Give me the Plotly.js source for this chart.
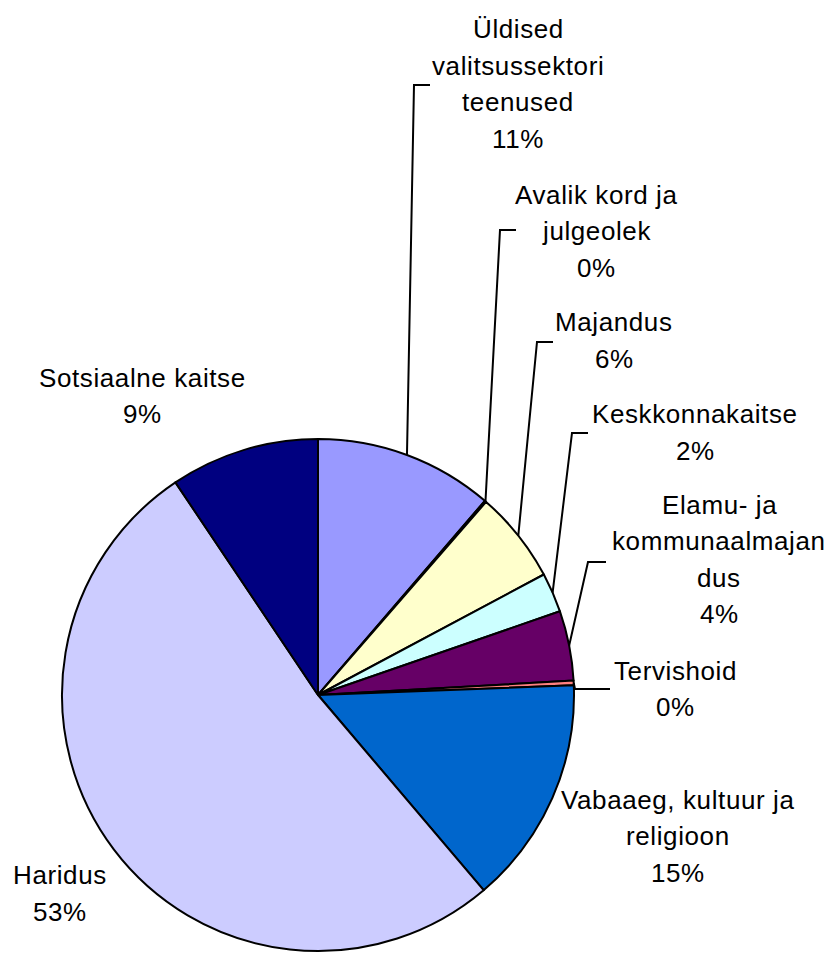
<!DOCTYPE html>
<html>
<head>
<meta charset="utf-8">
<script src="https://cdn.plot.ly/plotly-3.0.1.min.js"></script>
<style>
html,body{margin:0;padding:0;background:#fff;}
#chart{width:835px;height:956px;}
text.annotation-text{letter-spacing:0.6px;}
</style>
</head>
<body>
<div id="chart"></div>
<script>
// ---- data ----
const categories = [
  'Üldised valitsussektori teenused',
  'Avalik kord ja julgeolek',
  'Majandus',
  'Keskkonnakaitse',
  'Elamu- ja kommunaalmajandus',
  'Tervishoid',
  'Vabaaeg, kultuur ja religioon',
  'Haridus',
  'Sotsiaalne kaitse'
];
const labelLines = [
  ['Üldised', 'valitsussektori', 'teenused'],
  ['Avalik kord ja', 'julgeolek'],
  ['Majandus'],
  ['Keskkonnakaitse'],
  ['Elamu- ja', 'kommunaalmajan', 'dus'],
  ['Tervishoid'],
  ['Vabaaeg, kultuur ja', 'religioon'],
  ['Haridus'],
  ['Sotsiaalne kaitse']
];
const shares = [11.3, 0.1, 5.8, 2.5, 4.4, 0.3, 14.4, 51.8, 9.4];
const shownPct = ['11%', '0%', '6%', '2%', '4%', '0%', '15%', '53%', '9%'];
const colors = ['#9999FF', '#993366', '#FFFFCC', '#CCFFFF', '#660066', '#FF8080', '#0066CC', '#CCCCFF', '#000080'];

// ---- layout / styling ----
const W = 835, H = 956;
const CX = 318, CY = 695, R = 256;
const FS = 26, LH = 36.5, BASE_OFF = 9;
const FONT = 'Liberation Sans, Arial, Helvetica, sans-serif';

// label anchor (centre x, first baseline) and leader (cornerX, cornerY, endX)
const labelPos = [
  {x: 518, b: 38,    lead: [414, 85, 430]},
  {x: 596, b: 203.5, lead: [500, 230, 516]},
  {x: 614, b: 331,   lead: [537, 342, 553]},
  {x: 695, b: 423,   lead: [572, 433, 588]},
  {x: 719, b: 513.5, lead: [588, 562, 606]},
  {x: 675, b: 679.5, lead: [575, 689, 610]},
  {x: 678, b: 808.5, lead: null},
  {x: 60,  b: 884,   lead: null},
  {x: 142, b: 386.5, lead: null}
];

const total = shares.reduce((a, b) => a + b, 0);
const annotations = [];
const shapes = [];
let cum = 0;
shares.forEach((v, i) => {
  const mid = (cum + v / 2) / total;
  cum += v;
  const th = 2 * Math.PI * mid;
  const sx = CX + R * Math.sin(th);
  const sy = CY - R * Math.cos(th);
  const pos = labelPos[i];
  const lines = labelLines[i].concat([shownPct[i]]);
  lines.forEach((t, k) => {
    annotations.push({
      x: pos.x, y: pos.b + k * LH - BASE_OFF, xref: 'x', yref: 'y',
      text: t, showarrow: false, xanchor: 'center', yanchor: 'middle',
      font: {family: FONT, size: FS, color: '#000'}
    });
  });
  if (pos.lead) {
    const [cx, cy, ex] = pos.lead;
    shapes.push({
      type: 'path', xref: 'x', yref: 'y',
      path: `M ${sx} ${sy} L ${cx} ${cy} L ${ex} ${cy}`,
      line: {color: '#000', width: 2}
    });
  }
});

const traces = [
  {
    type: 'scatter', x: [], y: [], hoverinfo: 'skip', showlegend: false
  },
  {
    type: 'pie',
    labels: categories,
    values: shares,
    sort: false,
    direction: 'clockwise',
    rotation: 0,
    textinfo: 'none',
    hoverinfo: 'label+percent',
    showlegend: false,
    marker: {colors: colors, line: {color: '#000', width: 2}},
    domain: {x: [(CX - R) / W, (CX + R) / W], y: [1 - (CY + R) / H, 1 - (CY - R) / H]}
  }
];

const layout = {
  width: W, height: H,
  margin: {l: 0, r: 0, t: 0, b: 0, pad: 0},
  paper_bgcolor: '#fff', plot_bgcolor: 'rgba(0,0,0,0)',
  showlegend: false,
  xaxis: {range: [0, W], visible: false, fixedrange: true},
  yaxis: {range: [H, 0], visible: false, fixedrange: true},
  annotations: annotations,
  shapes: shapes
};

Plotly.newPlot('chart', traces, layout, {displayModeBar: false, staticPlot: true});
</script>
</body>
</html>
